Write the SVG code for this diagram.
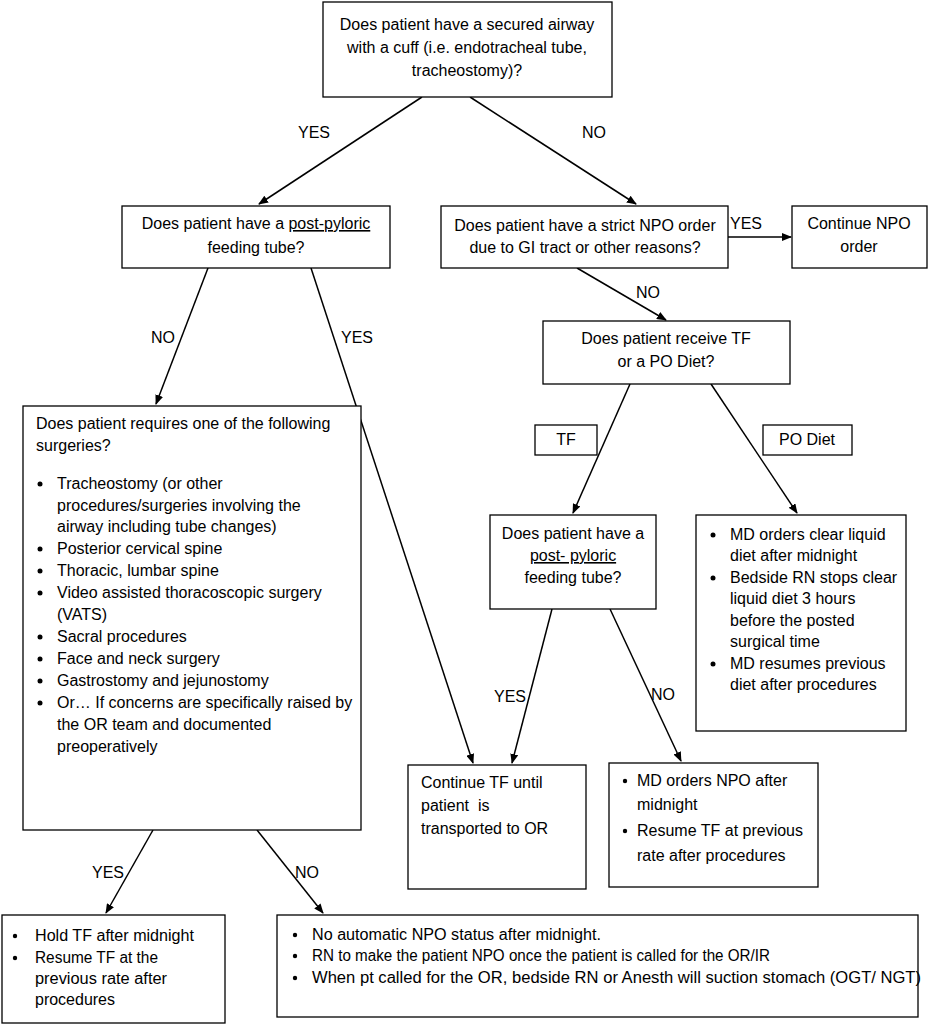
<svg xmlns="http://www.w3.org/2000/svg" width="928" height="1024" viewBox="0 0 928 1024">
<style>
rect.box{fill:#fff;stroke:#000;stroke-width:1.3}
text{font-family:"Liberation Sans",Arial,sans-serif;font-size:16px;fill:#000}
.c{text-anchor:middle}
.cond{font-size:16px}
line.e{stroke:#000;stroke-width:1.5;marker-end:url(#ah)}
circle{fill:#000}
</style>
<defs>
<marker id="ah" markerWidth="10" markerHeight="8" refX="9" refY="4" orient="auto" markerUnits="userSpaceOnUse">
<path d="M0,0 L10,4 L0,8 Z" fill="#000"/>
</marker>
</defs>
<rect width="928" height="1024" fill="#fff"/>

<g id="connectors">
<line class="e" x1="422" y1="97" x2="259" y2="204"/>
<line class="e" x1="470" y1="97" x2="636" y2="204"/>
<line class="e" x1="728" y1="237" x2="791" y2="237"/>
<line class="e" x1="577" y1="268" x2="666" y2="320"/>
<line class="e" x1="208" y1="268" x2="156" y2="404"/>
<line class="e" x1="311" y1="268" x2="473" y2="763"/>
<line class="e" x1="630" y1="384" x2="573" y2="513"/>
<line class="e" x1="711" y1="384" x2="797" y2="513"/>
<line class="e" x1="552" y1="609" x2="512" y2="763"/>
<line class="e" x1="610" y1="609" x2="681" y2="761"/>
<line class="e" x1="153" y1="830" x2="106" y2="913"/>
<line class="e" x1="257" y1="830" x2="323" y2="913"/>
<text x="314" y="138" class="c">YES</text>
<text x="594" y="138" class="c">NO</text>
<text x="746" y="229" class="c">YES</text>
<text x="648" y="298" class="c">NO</text>
<text x="163" y="343" class="c">NO</text>
<text x="357" y="343" class="c">YES</text>
<text x="510" y="702" class="c">YES</text>
<text x="663" y="700" class="c">NO</text>
<text x="108" y="878" class="c">YES</text>
<text x="307" y="878" class="c">NO</text>
</g>

<g id="n-airway">
<rect class="box" x="323" y="2" width="289" height="95"/>
<text x="467" y="30" class="c">Does patient have a secured airway</text>
<text x="467" y="53" class="c">with a cuff (i.e. endotracheal tube,</text>
<text x="467" y="76" class="c">tracheostomy)?</text>
</g>

<g id="n-postpyloric1">
<rect class="box" x="122" y="206" width="268" height="62"/>
<text x="256" y="229" class="c">Does patient have a <tspan text-decoration="underline">post-pyloric</tspan></text>
<text x="256" y="253" class="c">feeding tube?</text>
</g>

<g id="n-strictnpo">
<rect class="box" x="441" y="206" width="287" height="62"/>
<text x="585" y="231" class="c">Does patient have a strict NPO order</text>
<text x="585" y="253" class="c">due to GI tract or other reasons?</text>
</g>

<g id="n-continuenpo">
<rect class="box" x="792" y="206" width="135" height="62"/>
<text x="859" y="229" class="c">Continue NPO</text>
<text x="859" y="252" class="c">order</text>
</g>

<g id="n-tfpo">
<rect class="box" x="543" y="321" width="247" height="63"/>
<text x="666" y="344" class="c">Does patient receive TF</text>
<text x="666" y="367" class="c">or a PO Diet?</text>
</g>

<g id="n-tf-label">
<rect class="box" x="535" y="425" width="62" height="30"/>
<text x="566" y="445" class="c">TF</text>
</g>

<g id="n-podiet-label">
<rect class="box" x="763" y="425" width="89" height="30"/>
<text x="807" y="445" class="c">PO Diet</text>
</g>

<g id="n-surgeries">
<rect class="box" x="23" y="406" width="338" height="424"/>
<text x="36" y="429">Does patient requires one of the following</text>
<text x="36" y="451">surgeries?</text>
<circle cx="40" cy="484" r="2.5"/><text x="57" y="489">Tracheostomy (or other</text>
<text x="57" y="511">procedures/surgeries involving the</text>
<text x="57" y="532">airway including tube changes)</text>
<circle cx="40" cy="549" r="2.5"/><text x="57" y="554">Posterior cervical spine</text>
<circle cx="40" cy="571" r="2.5"/><text x="57" y="576">Thoracic, lumbar spine</text>
<circle cx="40" cy="593" r="2.5"/><text x="57" y="598">Video assisted thoracoscopic surgery</text>
<text x="57" y="620">(VATS)</text>
<circle cx="40" cy="637" r="2.5"/><text x="57" y="642">Sacral procedures</text>
<circle cx="40" cy="659" r="2.5"/><text x="57" y="664">Face and neck surgery</text>
<circle cx="40" cy="681" r="2.5"/><text x="57" y="686">Gastrostomy and jejunostomy</text>
<circle cx="40" cy="703" r="2.5"/><text x="57" y="708">Or… If concerns are specifically raised by</text>
<text x="57" y="730">the OR team and documented</text>
<text x="57" y="752">preoperatively</text>
</g>

<g id="n-postpyloric2">
<rect class="box" x="490" y="515" width="166" height="94"/>
<text x="573" y="539" class="c">Does patient have a</text>
<text x="573" y="561" class="c"><tspan text-decoration="underline">post- pyloric</tspan></text>
<text x="573" y="583" class="c">feeding tube?</text>
</g>

<g id="n-clearliquid">
<rect class="box" x="696" y="515" width="210" height="216"/>
<circle cx="713" cy="535" r="2.5"/><text x="730" y="540">MD orders clear liquid</text>
<text x="730" y="561">diet after midnight</text>
<circle cx="713" cy="578" r="2.5"/><text x="730" y="583">Bedside RN stops clear</text>
<text x="730" y="604">liquid diet 3 hours</text>
<text x="730" y="626">before the posted</text>
<text x="730" y="647">surgical time</text>
<circle cx="713" cy="664" r="2.5"/><text x="730" y="669">MD resumes previous</text>
<text x="730" y="690">diet after procedures</text>
</g>

<g id="n-continuetf">
<rect class="box" x="408" y="765" width="178" height="124"/>
<text x="421" y="788">Continue TF until</text>
<text x="421" y="811" xml:space="preserve">patient  is</text>
<text x="421" y="834">transported to OR</text>
</g>

<g id="n-npomidnight">
<rect class="box" x="609" y="763" width="209" height="124"/>
<circle cx="625" cy="781" r="2.2"/><text x="637" y="786">MD orders NPO after</text>
<text x="637" y="810">midnight</text>
<circle cx="625" cy="831" r="2.2"/><text x="637" y="836">Resume TF at previous</text>
<text x="637" y="861">rate after procedures</text>
</g>

<g id="n-holdtf">
<rect class="box" x="2" y="915" width="223" height="108"/>
<circle cx="15" cy="936" r="2.2"/><text x="35" y="941" class="cond" textLength="159" lengthAdjust="spacingAndGlyphs">Hold TF after midnight</text>
<circle cx="15" cy="958" r="2.2"/><text x="35" y="963" class="cond" textLength="123" lengthAdjust="spacingAndGlyphs">Resume TF at the</text>
<text x="35" y="984" class="cond" textLength="132" lengthAdjust="spacingAndGlyphs">previous rate after</text>
<text x="35" y="1005" class="cond" textLength="80" lengthAdjust="spacingAndGlyphs">procedures</text>
</g>

<g id="n-noautonpo">
<rect class="box" x="277" y="915" width="641" height="102"/>
<circle cx="295" cy="935" r="2.2"/><text x="312" y="940" class="cond" textLength="289" lengthAdjust="spacingAndGlyphs">No automatic NPO status after midnight.</text>
<circle cx="295" cy="956" r="2.2"/><text x="312" y="961" class="cond" textLength="458" lengthAdjust="spacingAndGlyphs">RN to make the patient NPO once the patient is called for the OR/IR</text>
<circle cx="295" cy="978" r="2.2"/><text x="312" y="983" class="cond" textLength="609" lengthAdjust="spacingAndGlyphs">When pt called for the OR, bedside RN or Anesth will suction stomach (OGT/ NGT)</text>
</g>
</svg>
